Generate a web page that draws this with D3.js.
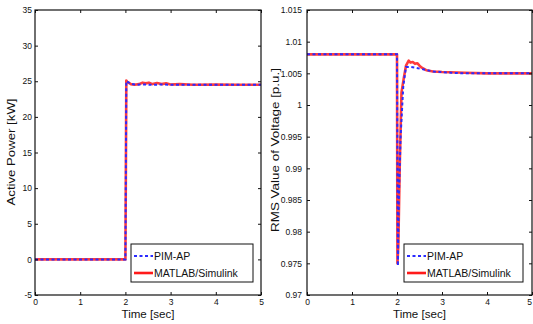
<!DOCTYPE html>
<html><head><meta charset="utf-8">
<script src="https://cdn.jsdelivr.net/npm/d3@7"></script>
<style>body{margin:0;background:#fff}svg{display:block}text{font-family:"Liberation Sans",Arial,sans-serif;fill:#111}</style>
</head><body><svg id="c" width="533" height="324"></svg>
<script>
// ---- data ----
const xTicks = [0,1,2,3,4,5];
const powerTicks = [-5,0,5,10,15,20,25,30,35];
const voltTicks = [0.97,0.975,0.98,0.985,0.99,0.995,1,1.005,1.01,1.015];
const voltTickLabels = ["0.97","0.975","0.98","0.985","0.99","0.995","1","1.005","1.01","1.015"];

const powerTime_PIM = [0,2.0,2.01,2.02,2.05,2.08,2.15,2.25,2.4,2.6,2.8,3.0,3.5,4,4.5,5];
const powerVal_PIM  = [0,0,12,25.0,24.9,24.8,24.6,24.5,24.55,24.5,24.55,24.5,24.5,24.5,24.5,24.5];
const powerTime_ML  = [0,2.0,2.01,2.02,2.04,2.07,2.12,2.2,2.3,2.38,2.45,2.52,2.6,2.7,2.8,2.9,3.0,3.2,3.5,4,4.5,5];
const powerVal_ML   = [0,0,12,25.1,24.9,24.8,24.6,24.5,24.6,24.8,24.7,24.8,24.6,24.75,24.6,24.7,24.55,24.6,24.5,24.55,24.5,24.5];

const voltTime_PIM = [0,2.0,2.02,2.04,2.08,2.14,2.2,2.3,2.4,2.6,2.8,3.0,3.2,3.5,4,5];
const voltVal_PIM  = [1.008,1.008,0.9746,0.985,0.995,1.003,1.006,1.006,1.0059,1.0056,1.0053,1.0052,1.0051,1.005,1.005,1.005];
const voltTime_ML  = [0,2.0,2.01,2.03,2.06,2.1,2.15,2.2,2.26,2.3,2.35,2.4,2.45,2.5,2.55,2.65,2.8,3.0,3.5,4,5];
const voltVal_ML   = [1.008,1.008,0.975,0.978,0.99,1.002,1.0042,1.0062,1.007,1.0067,1.0068,1.0065,1.0066,1.0062,1.0059,1.0055,1.0053,1.0052,1.0051,1.005,1.005];

const seriesNames = ["PIM-AP","MATLAB/Simulink"];
const colors = {pim:"#2b2bff", ml:"#ff1a1a"};

const svg = d3.select("#c");

function panel(opt){
  const g = svg.append("g");
  const x = d3.scaleLinear().domain([0,5]).range([opt.x0,opt.x1]);
  const y = d3.scaleLinear().domain(opt.ydom).range([opt.y1,opt.y0]);
  const line = (ts,vs)=>d3.line().x((d,i)=>x(ts[i])).y((d,i)=>y(vs[i]))(vs);
  g.append("path").attr("d",line(opt.mlT,opt.mlV)).attr("fill","none")
    .attr("stroke",colors.ml).attr("stroke-width",2.6).attr("stroke-opacity",0.85).attr("stroke-linejoin","round");
  g.append("path").attr("d",line(opt.pimT,opt.pimV)).attr("fill","none")
    .attr("stroke",colors.pim).attr("stroke-width",2).attr("stroke-dasharray","3,2.5");
  const xa = g.append("g").attr("transform",`translate(0,${opt.y1})`)
    .call(d3.axisBottom(x).tickValues(xTicks).tickSizeInner(-3).tickSizeOuter(0).tickPadding(4).tickFormat(d3.format("d")));
  g.append("g").attr("transform",`translate(0,${opt.y0})`)
    .call(d3.axisTop(x).tickValues(xTicks).tickSizeInner(-3).tickSizeOuter(0).tickFormat(""));
  g.append("g").attr("transform",`translate(${opt.x0},0)`)
    .call(d3.axisLeft(y).tickValues(opt.yticks).tickSizeInner(-3).tickSizeOuter(0).tickPadding(opt.ypad).tickFormat((d,i)=>opt.ylabels[i]));
  g.append("g").attr("transform",`translate(${opt.x1},0)`)
    .call(d3.axisRight(y).tickValues(opt.yticks).tickSizeInner(-3).tickSizeOuter(0).tickFormat(""));
  g.selectAll(".domain").remove();
  g.selectAll(".tick line").attr("stroke","#111");
  g.selectAll(".tick text").attr("font-size",8.5).attr("fill","#222").style("font-family","Liberation Sans, Arial");
  if (opt.shiftLast) xa.selectAll(".tick text").filter(d=>d===5).attr("dx",-3);
  g.append("rect").attr("x",opt.x0).attr("y",opt.y0).attr("width",opt.x1-opt.x0).attr("height",opt.y1-opt.y0)
    .attr("fill","none").attr("stroke","#111").attr("stroke-width",1.2);
  g.append("text").attr("x",(opt.x0+opt.x1)/2).attr("y",318).attr("text-anchor","middle").attr("font-size",11)
    .attr("textLength",53).attr("lengthAdjust","spacingAndGlyphs").text("Time [sec]");
  g.append("text").attr("transform",`translate(${opt.ylx},${opt.ylc}) rotate(-90)`)
    .attr("text-anchor","middle").attr("font-size",11).attr("textLength",opt.yllen).attr("lengthAdjust","spacingAndGlyphs").text(opt.ylabel);
  const L = opt.leg;
  g.append("rect").attr("x",L.x).attr("y",244).attr("width",L.w).attr("height",38).attr("fill","#fff").attr("stroke","#111").attr("stroke-width",1);
  g.append("line").attr("x1",L.x+3).attr("x2",L.x+22).attr("y1",256).attr("y2",256).attr("stroke",colors.pim).attr("stroke-width",2).attr("stroke-dasharray","3,2.5");
  g.append("line").attr("x1",L.x+3).attr("x2",L.x+22).attr("y1",273).attr("y2",273).attr("stroke",colors.ml).attr("stroke-width",2.6);
  g.append("text").attr("x",L.x+23).attr("y",260).attr("font-size",10.5).text(seriesNames[0]);
  g.append("text").attr("x",L.x+23).attr("y",277).attr("font-size",10.5).text(seriesNames[1]);
}

panel({x0:35,x1:261,y0:10,y1:295,ydom:[-5,35],yticks:powerTicks,ylabels:powerTicks.map(String),ypad:3,
  ylabel:"Active Power [kW]",ylx:15,ylc:152,yllen:107,
  pimT:powerTime_PIM,pimV:powerVal_PIM,mlT:powerTime_ML,mlV:powerVal_ML,leg:{x:131,w:122}});
panel({x0:307,x1:532,y0:10,y1:295,ydom:[0.97,1.015],yticks:voltTicks,ylabels:voltTickLabels,ypad:5,shiftLast:true,
  ylabel:"RMS Value of Voltage [p.u.]",ylx:279,ylc:150,yllen:164,
  pimT:voltTime_PIM,pimV:voltVal_PIM,mlT:voltTime_ML,mlV:voltVal_ML,leg:{x:404,w:119}});
</script></body></html>
